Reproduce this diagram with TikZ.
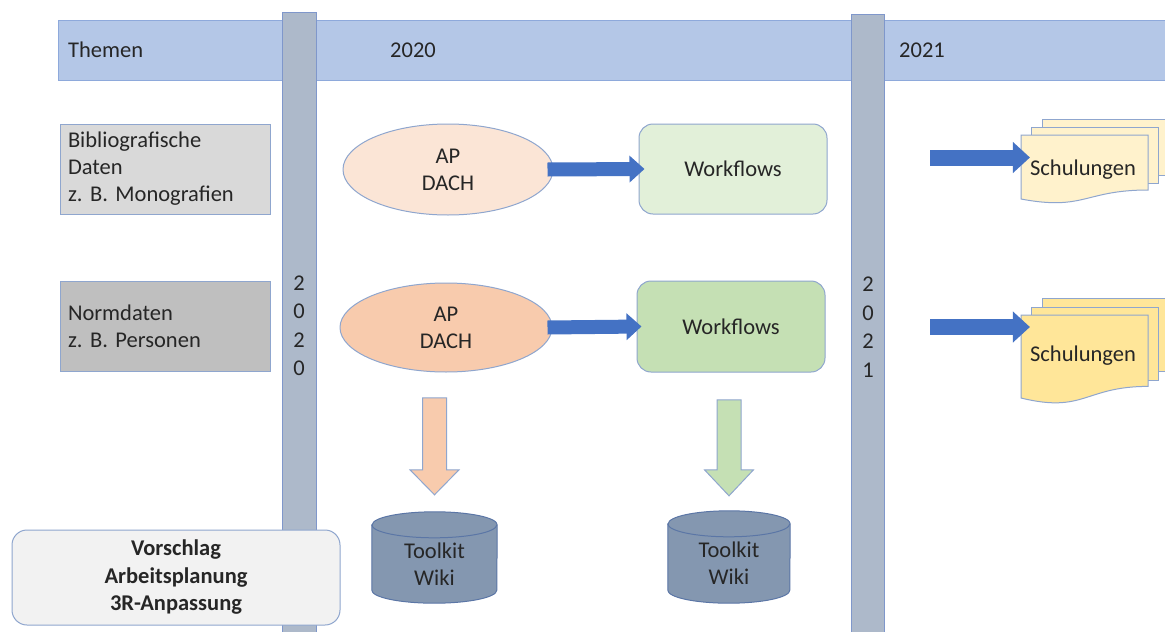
\documentclass[tikz,border=0pt]{standalone}
\usepackage{fontspec}
\setmainfont{Carlito}
\frenchspacing
\usetikzlibrary{arrows.meta,calc,shapes.geometric}
\definecolor{bandfill}{HTML}{B4C7E7}
\definecolor{bandline}{HTML}{8EA9DB}
\definecolor{barfill}{HTML}{ADB9CA}
\definecolor{barline}{HTML}{7F97CB}
\definecolor{grayA}{HTML}{D9D9D9}
\definecolor{grayB}{HTML}{BFBFBF}
\definecolor{peachA}{HTML}{FBE5D6}
\definecolor{peachB}{HTML}{F8CBAD}
\definecolor{greenA}{HTML}{E2F0D9}
\definecolor{greenB}{HTML}{C5E0B4}
\definecolor{yellowA}{HTML}{FFF2CC}
\definecolor{yellowB}{HTML}{FFE699}
\definecolor{cylfill}{HTML}{8497B0}
\definecolor{cylline}{HTML}{5B76A6}
\definecolor{outline}{HTML}{8FA6CE}
\definecolor{arrowblue}{HTML}{4472C4}
\definecolor{lightbox}{HTML}{F2F2F2}
\definecolor{txt}{HTML}{262626}
\begin{document}
\begin{tikzpicture}[x=1pt,y=-1pt,
  every node/.style={font=\fontsize{22.5}{27}\selectfont, text=txt, inner sep=0pt},
  shapeline/.style={draw=outline, line width=1pt},
  bandstyle/.style={draw=bandline, fill=bandfill, line width=1pt, rectangle, anchor=north west},
  barstyle/.style={draw=barline, fill=barfill, line width=1pt, rectangle, anchor=north west},
  digits/.style={align=center, font=\fontsize{22.5}{28.5}\selectfont},
  themebox/.style={shapeline, rectangle, minimum width=210pt, minimum height=90pt, text width=194pt, align=left, inner xsep=8pt},
  apell/.style={shapeline, ellipse, align=center},
  wfbox/.style={shapeline, rectangle, rounded corners=14pt, minimum width=188pt, minimum height=90pt},
  docpage/.style={shapeline, fill=#1},
  arrowA/.style={draw=arrowblue, line width=14pt, -{Triangle[length=15pt,width=26pt]}},
  arrowB/.style={draw=arrowblue, line width=16pt, -{Triangle[length=17pt,width=30pt]}},
  downarrow/.style={shapeline, fill=#1},
  cylbody/.style={draw=cylline, fill=cylfill, line width=1pt},
  cylframe/.style={minimum width=125pt, minimum height=91pt},
  propbox/.style={draw=outline, fill=lightbox, line width=1pt, rounded corners=15pt, minimum width=328pt, minimum height=95pt, align=center, font=\fontsize{22.5}{27.5}\selectfont\bfseries}
]
\clip (0,0) rectangle (1165,632);
\fill[white] (0,0) rectangle (1165,632);

% header band and year bars
\node[bandstyle, minimum width=1130pt, minimum height=60pt] (band) at (58,20) {};
\node[anchor=west] (themen) at (68,50) {Themen};
\node (y2020) at (413,50) {2020};
\node (y2021) at (922,50) {2021};
\node[barstyle, minimum width=34pt, minimum height=640pt] (bar1) at (282,12) {};
\node[barstyle, minimum width=33pt, minimum height=640pt] (bar2) at (851,14) {};
\node[digits] (d2020) at (299,326) {2\\0\\2\\0};
\node[digits] (d2021) at (868,327) {2\\0\\2\\1};

% themes
\node[themebox, fill=grayA] (bib) at (165,169) {Bibliografische\\Daten\\z. B. Monografien};
\node[themebox, fill=grayB] (norm) at (165,326.5) {Normdaten\\z. B. Personen};

% AP DACH
\node[apell, fill=peachA, minimum width=210pt, minimum height=91pt] (ap1) at (448,169.5) {AP\\DACH};
\node[apell, fill=peachB, minimum width=212pt, minimum height=89pt] (ap2) at (446,327.5) {AP\\DACH};

% Workflows
\node[wfbox, fill=greenA] (wf1) at (733,169) {Workflows};
\node[wfbox, fill=greenB, minimum height=91pt] (wf2) at (731,326.5) {Workflows};

\draw[arrowA] ([xshift=-6pt]ap1.east) -- ([xshift=6pt]wf1.west);
\draw[arrowA] ([xshift=-5pt]ap2.east) -- ([xshift=5pt]wf2.west);

% Schulungen (upper)
\filldraw[docpage=yellowA] (1042,119) rectangle (1169,175);
\filldraw[docpage=yellowA] (1031.5,127) rectangle (1158.5,183);
\filldraw[docpage=yellowA] (1021,135) -- (1148,135) -- (1148,190) .. controls (1084.5,190) and (1084.5,211) .. (1021,199) -- cycle;
\node (sch1) at (1083,170) {Schulungen};
% Schulungen (lower)
\filldraw[docpage=yellowB] (1042,298) rectangle (1169,371);
\filldraw[docpage=yellowB] (1031.5,307) rectangle (1158.5,380);
\filldraw[docpage=yellowB] (1021,315) -- (1148,315) -- (1148,386.4) .. controls (1084.5,386.4) and (1084.5,413.6) .. (1021,398) -- cycle;
\node (sch2) at (1083,356) {Schulungen};

\coordinate (s3) at (930,157.5);
\coordinate (s4) at (930,327);
\draw[arrowB] (s3) -- (s3 -| sch1.west);
\draw[arrowB] (s4) -- (s4 -| sch2.west);

% Toolkit cylinders
\node[cylframe] (cyl1) at (434.5,557.5) {};
\node[cylframe, minimum width=122pt, minimum height=92pt] (cyl2) at (729,557) {};
\foreach \c/\r in {cyl1/62.5, cyl2/61} {
  \filldraw[cylbody] ($(\c.north west)+(0,13)$) -- ($(\c.south west)+(0,-13)$)
    arc[start angle=180, end angle=0, x radius=\r, y radius=13]
    -- ($(\c.north east)+(0,13)$)
    arc[start angle=0, end angle=-180, x radius=\r, y radius=13] -- cycle;
  \draw[cylbody, fill=none] ($(\c.north west)+(0,13)$)
    arc[start angle=180, end angle=0, x radius=\r, y radius=13];
}
\node[align=center] (tk1) at (434.5,564) {Toolkit\\Wiki};
\node[align=center] (tk2) at (729,563) {Toolkit\\Wiki};

% down arrows
\coordinate (t1) at ($(cyl1.north)+(0,-17)$);
\coordinate (t2) at ($(cyl2.north)+(0,-15)$);
\filldraw[downarrow=peachB] (t1) -- ++(-24.5,-25) -- ++(12.5,0) -- ++(0,-72) -- ++(24,0) -- ++(0,72) -- ++(12.5,0) -- cycle;
\filldraw[downarrow=greenB] (t2) -- ++(-24.5,-26) -- ++(12.5,0) -- ++(0,-70) -- ++(24,0) -- ++(0,70) -- ++(12.5,0) -- cycle;

% proposal box
\node[propbox] (vor) at (176,577.5) {Vorschlag\\Arbeitsplanung\\3R-Anpassung};
\end{tikzpicture}
\end{document}
